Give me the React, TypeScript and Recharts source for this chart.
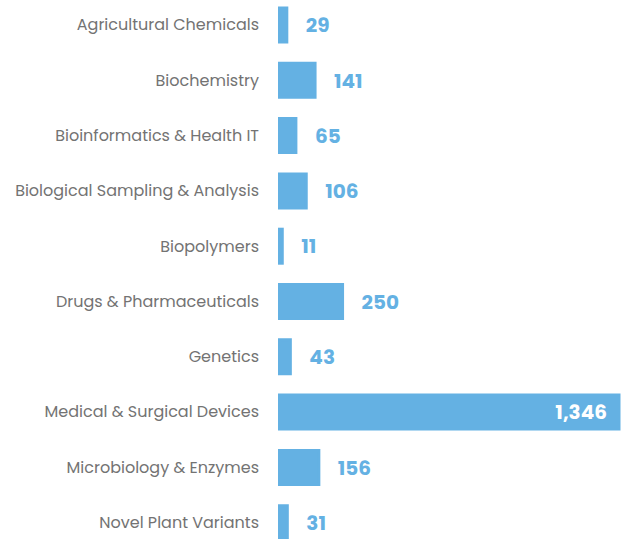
import React from "react";
import { BarChart, Bar, XAxis, YAxis, LabelList } from "recharts";

const categories = [
  "Agricultural Chemicals",
  "Biochemistry",
  "Bioinformatics & Health IT",
  "Biological Sampling & Analysis",
  "Biopolymers",
  "Drugs & Pharmaceuticals",
  "Genetics",
  "Medical & Surgical Devices",
  "Microbiology & Enzymes",
  "Novel Plant Variants",
];
const counts = [29, 141, 65, 106, 11, 250, 43, 1346, 156, 31];

const data = categories.map((name, i) => ({ name, value: counts[i] }));

const BAR_COLOR = "#64b1e3";
const FONT = "Poppins, 'Open Sans', sans-serif";

const ValueLabel = (props: any) => {
  const { x, y, width, height, value } = props;
  const text = Number(value).toLocaleString("en-US");
  const cy = y + height / 2;
  if (width > 120) {
    return (
      <text
        x={x + width - 12}
        y={cy}
        dy="0.36em"
        textAnchor="end"
        fill="#ffffff"
        fontFamily={FONT}
        fontWeight={700}
        fontSize={20}
      >
        {text}
      </text>
    );
  }
  return (
    <text
      x={x + width + 19}
      y={cy}
      dy="0.36em"
      textAnchor="start"
      fill={BAR_COLOR}
      fontFamily={FONT}
      fontWeight={700}
      fontSize={20}
    >
      {text}
    </text>
  );
};

export default function App() {
  return (
    <div style={{ position: "absolute", left: 0, top: -3, width: 623, height: 553 }}>
      <BarChart
        width={623}
        height={553}
        data={data}
        layout="vertical"
        margin={{ top: 0, right: 4, bottom: 0, left: 0 }}
      >
        <XAxis type="number" domain={[0, 1346]} hide />
        <YAxis
          type="category"
          dataKey="name"
          width={279.5}
          axisLine={false}
          tickLine={false}
          tickMargin={14.5}
          tick={{ fill: "#737373", fontSize: 16, fontFamily: FONT }}
          interval={0}
        />
        <Bar
          dataKey="value"
          fill={BAR_COLOR}
          stroke={BAR_COLOR}
          strokeWidth={3}
          barSize={34}
          isAnimationActive={false}
        >
          <LabelList dataKey="value" content={ValueLabel} />
        </Bar>
      </BarChart>
    </div>
  );
}
